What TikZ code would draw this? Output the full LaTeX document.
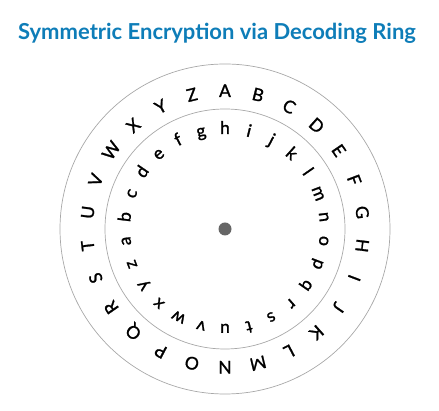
\documentclass[tikz,border=0pt]{standalone}
\usepackage{fontspec}
\setmainfont{Lato}
\newfontfamily\ringfont{Lato}[FakeBold=1.3]
\usepackage{xcolor}
\usetikzlibrary{calc}
\definecolor{titleblue}{HTML}{0E7DB8}
\definecolor{ringgray}{HTML}{A8A8A8}
\definecolor{dotgray}{HTML}{666666}

\begin{document}
\begin{tikzpicture}[
    x=1pt, y=1pt,
    ring/.style={draw=ringgray, line width=0.7pt},
    upper/.style={anchor=base, inner sep=0pt, font=\ringfont\fontsize{17.5}{19}\selectfont},
    lower/.style={anchor=base, inner sep=0pt, font=\ringfont\fontsize{17.5}{19}\selectfont},
    title/.style={font=\fontsize{22}{24}\selectfont\bfseries, color=titleblue},
]
\useasboundingbox (0,0) rectangle (439,411);

\node[title] (head) at (217,378) {Symmetric Encryption via Decoding Ring};

\coordinate (c) at (225,182);
\draw[ring] (c) circle (165);
\draw[ring] (c) circle (120);
\fill[dotgray] (c) circle (6.5);

% outer ring: capitals, A at the top
\foreach \ch [count=\n from 0] in {A,B,C,D,E,F,G,H,I,J,K,L,M,N,O,P,Q,R,S,T,U,V,W,X,Y,Z} {
    \pgfmathsetmacro{\ang}{90-\n*360/26}
    \node[upper, rotate=\ang-90] (o\n) at ($(c)+(\ang:132)$) {\ch};
}

% inner ring: small letters, shifted by seven
\foreach \ch [count=\n from 0] in {a,b,c,d,e,f,g,h,i,j,k,l,m,n,o,p,q,r,s,t,u,v,w,x,y,z} {
    \pgfmathsetmacro{\ang}{90+(7-\n)*360/26}
    \node[lower, rotate=\ang-90] (i\n) at ($(c)+(\ang:95)$) {\ch};
}

\end{tikzpicture}
\end{document}
